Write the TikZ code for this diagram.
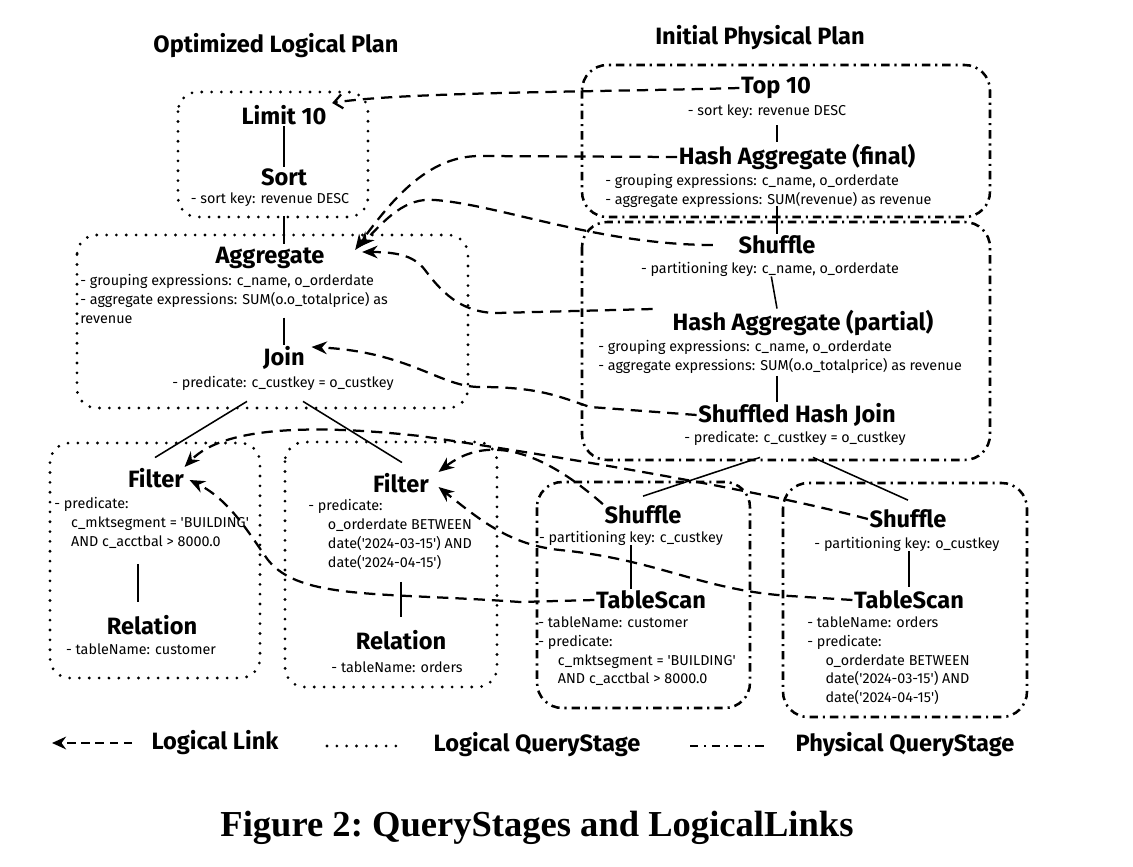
\documentclass[tikz,border=0pt]{standalone}
\usepackage{fontspec}
\setmainfont{Fira Sans}
\newfontfamily\capfont{Liberation Serif}
\usetikzlibrary{arrows.meta,calc,positioning}
\newcommand{\sq}{\textquotesingle}

\begin{document}
\begin{tikzpicture}[x=0.025cm, y=-0.025cm,
ttl/.style={font=\fontsize{16.8}{19}\selectfont\bfseries, inner sep=1pt},
txt/.style={font=\fontsize{10.2}{13.5}\selectfont, align=left, inner sep=0pt},
lstage/.style={line width=2.2pt, dash pattern=on 0pt off 7pt, line cap=round, rounded corners=14pt},
pstage/.style={line width=1.8pt, dash pattern=on 6pt off 3.5pt on 1.5pt off 3.5pt, rounded corners=18pt},
llink/.style={line width=1.6pt, dash pattern=on 8pt off 5pt, -{Stealth[length=11pt,width=9pt]}},
tree/.style={line width=1.1pt}]
\useasboundingbox (0,0) rectangle (1133,867);

\node[ttl] (hlog) at (276,46) {Optimized Logical Plan};
\node[ttl] (hphy) at (760,38) {Initial Physical Plan};

% logical plan
\node[ttl] (lim) at (284,115) {Limit 10};
\node[ttl] (sort) at (284,177) {Sort};
\node[txt] (sortK) at (270,200) {- sort key: revenue DESC};
\node[ttl] (agg) at (270,258) {Aggregate};
\node[txt, anchor=north west] (aggK) at (80,274) {- grouping expressions: c\_name, o\_orderdate\\- aggregate expressions: SUM(o.o\_totalprice) as\\revenue};
\node[ttl] (join) at (284,358) {Join};
\node[txt] (joinK) at (283,383) {- predicate: c\_custkey = o\_custkey};
\node[ttl] (filA) at (156,478) {Filter};
\node[txt, anchor=north west] (filAK) at (54,497) {- predicate:\\\hspace*{12pt}c\_mktsegment = \sq BUILDING\sq\\\hspace*{12pt}AND c\_acctbal > 8000.0};
\node[ttl] (relA) at (152,625) {Relation};
\node[txt] (relAK) at (141,649) {- tableName: customer};
\node[ttl] (filB) at (401,483) {Filter};
\node[txt, anchor=north west] (filBK) at (308,499) {- predicate:\\\hspace*{14pt}o\_orderdate BETWEEN\\\hspace*{14pt}date(\sq 2024-03-15\sq) AND\\\hspace*{14pt}date(\sq 2024-04-15\sq)};
\node[ttl] (relB) at (401,640) {Relation};
\node[txt] (relBK) at (397,667) {- tableName: orders};

% physical plan
\node[ttl] (top) at (776,88) {Top 10};
\node[txt] (topK) at (767,112) {- sort key: revenue DESC};
\node[ttl] (hafin) at (797,157) {Hash Aggregate (final)};
\node[txt, anchor=north west] (hafinK) at (605,174) {- grouping expressions: c\_name, o\_orderdate\\- aggregate expressions: SUM(revenue) as revenue};
\node[ttl] (shufB) at (777,245) {Shuffle};
\node[txt] (shufBK) at (770,269) {- partitioning key: c\_name, o\_orderdate};
\node[ttl] (hapart) at (803,323) {Hash Aggregate (partial)};
\node[txt, anchor=north west] (hapartK) at (598,340) {- grouping expressions: c\_name, o\_orderdate\\- aggregate expressions: SUM(o.o\_totalprice) as revenue};
\node[ttl] (shj) at (797,415) {Shuffled Hash Join};
\node[txt] (shjK) at (795,438) {- predicate: c\_custkey = o\_custkey};
\node[ttl] (shufC) at (643,515) {Shuffle};
\node[txt] (shufCK) at (631,538) {- partitioning key: c\_custkey};
\node[ttl] (tsC) at (651,600) {TableScan};
\node[txt, anchor=north west] (tsCK) at (538,616) {- tableName: customer\\- predicate:\\\hspace*{14pt}c\_mktsegment = \sq BUILDING\sq\\\hspace*{14pt}AND c\_acctbal > 8000.0};
\node[ttl] (shufO) at (908,519) {Shuffle};
\node[txt] (shufOK) at (907,544) {- partitioning key: o\_custkey};
\node[ttl] (tsO) at (909,600) {TableScan};
\node[txt, anchor=north west] (tsOK) at (807,616) {- tableName: orders\\- predicate:\\\hspace*{13pt}o\_orderdate BETWEEN\\\hspace*{13pt}date(\sq 2024-03-15\sq) AND\\\hspace*{13pt}date(\sq 2024-04-15\sq)};

% query stages
\draw[lstage] (178,92) rectangle (368,217);
\draw[lstage] (77,235) rectangle (468,408);
\draw[lstage] (50,443) rectangle (260,678);
\draw[lstage] (285,442) rectangle (497,687);
\draw[pstage] (582,65) rectangle (990,217);
\draw[pstage] (582,222) rectangle (990,460);
\draw[pstage] (537,482) rectangle (750,708);
\draw[pstage] (783,483) rectangle (1027,717);

% plan edges
\draw[tree] (lim) -- (sort);
\draw[tree] ($(sortK.south -| sort)+(0,9)$) -- ($(agg.north -| sort)+(0,-2)$);
\draw[tree] ($(join.north)+(0,-27)$) -- (join.north);
\draw[tree] ($(joinK.south)+(-36,11)$) -- ($(filA.north)+(-1,-9)$);
\draw[tree] ($(joinK.south)+(20,11)$) -- ($(filB.north)+(1,-9)$);
\draw[tree] ($(filAK.south -| relAK)+(-3,15)$) -- ($(relA.north -| relAK)+(-3,-12)$);
\draw[tree] ($(filBK.south -| relB)+(0,12)$) -- ($(relB.north)+(0,-12)$);
\draw[tree] ($(topK.south -| shufB)+(0,6)$) -- ($(hafin.north -| shufB)+(0,-1)$);
\draw[tree] ($(hafinK.south -| shufB)+(0,-2)$) -- (shufB);
\draw[tree] (shufBK) -- (hapart.north -| shufB);
\draw[tree] ($(hapartK.south -| shufB)+(0,2)$) -- (shj.north -| shufB);
\draw[tree] ($(shjK.south)+(-35,12)$) -- ($(shufC.north)+(0,-8)$);
\draw[tree] ($(shjK.south)+(18,12)$) -- ($(shufO.north)+(0,-8)$);
\draw[tree] (shufCK) -- (tsC.north -| shufCK);
\draw[tree] ($(shufOK.south -| shufO)+(1,0)$) -- ($(tsO.north)+(0,-2)$);

% logical links
\draw[llink, -{Straight Barb[length=6pt,width=10pt]}] (top.west) .. controls (600,92) and (400,92) .. ($(lim.east)+(4,-12)$);
\draw[llink] (hafin.west) -- (480,156) .. controls (430,156) and (395,195) .. ($(agg.east)+(29,-8)$);
\draw[llink, shorten <=17pt] (shufB.west) .. controls (600,245) and (500,205) .. (435,200) .. controls (405,197) and (385,220) .. ($(agg.east)+(33,-11)$);
\draw[llink, shorten <=13pt] (hapart.north west) -- (497,313) .. controls (460,313) and (440,290) .. (425,270) .. controls (415,257) and (400,252) .. ($(agg.east)+(36,-6)$);
\draw[llink] (shj.west) -- (590,407) .. controls (560,397) and (540,387) .. (480,387) .. controls (440,387) and (410,352) .. ($(join.east)+(5,-11)$);
\draw[llink] (shufC.north west) .. controls (530,440) and (480,440) .. ($(filB.east)+(8,-11)$);
\draw[llink] (shufO.west) .. controls (750,488) and (550,455) .. (420,436) .. controls (320,425) and (225,425) .. ($(filA.east)+(-1,-11)$);
\draw[llink] (tsC.west) -- (520,602) .. controls (380,592) and (300,600) .. (268,560) .. controls (250,535) and (230,500) .. ($(filA.east)+(4,2)$);
\draw[llink] (tsO.west) -- (790,596) .. controls (700,590) and (660,560) .. (560,550) .. controls (510,545) and (480,520) .. ($(filB.east)+(8,4)$);

% legend
\coordinate (lkA) at (52,743);
\coordinate (lkB) at (132,743);
\coordinate (lsA) at (327,746);
\coordinate (lsB) at (403,746);
\coordinate (psA) at (690,746);
\coordinate (psB) at (768,746);
\node[ttl] (lkT) at (215,743) {Logical Link};
\node[ttl] (lsT) at (537,745) {Logical QueryStage};
\node[ttl] (psT) at (905,745) {Physical QueryStage};
\draw[line width=1.6pt, dash pattern=on 6pt off 4pt, -{Stealth[length=10pt,width=9pt]}] (lkB) -- (lkA);
\draw[line width=2.2pt, dash pattern=on 0pt off 7pt, line cap=round] (lsA) -- (lsB);
\draw[line width=1.6pt, dash pattern=on 6pt off 4pt on 1.5pt off 4pt] (psA) -- (psB);

\node[font=\capfont\bfseries\fontsize{26}{30}\selectfont] (cap) at (537,828) {\frenchspacing Figure 2: QueryStages and LogicalLinks};
\end{tikzpicture}
\end{document}
